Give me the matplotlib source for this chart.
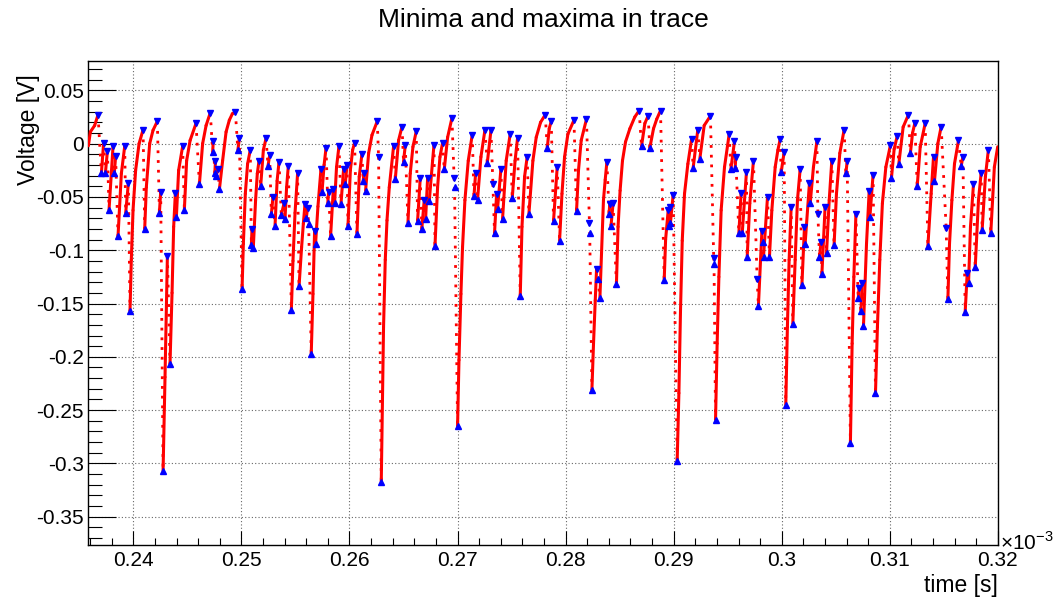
import numpy as np
import matplotlib.pyplot as plt
from matplotlib.collections import LineCollection
from matplotlib.ticker import MultipleLocator, FuncFormatter

plt.rcParams['font.family'] = ['Liberation Sans', 'DejaVu Sans']
plt.rcParams['axes.unicode_minus'] = False
plt.rcParams['mathtext.fontset'] = 'custom'
plt.rcParams['mathtext.rm'] = 'Liberation Sans'

# time in units of 1e-3 s, voltage in V

# local maxima found in the trace
max_t = [0.23673, 0.23725, 0.23760, 0.23812, 0.23836, 0.23920, 0.23954, 0.24090, 0.24222, 0.24253,
         0.24315, 0.24389, 0.24456, 0.24580, 0.24712, 0.24739, 0.24760, 0.24784, 0.24944, 0.24981,
         0.25082, 0.25098, 0.25163, 0.25228, 0.25261, 0.25292, 0.25348, 0.25394, 0.25434, 0.25520,
         0.25588, 0.25612, 0.25677, 0.25736, 0.25783, 0.25807, 0.25850, 0.25903, 0.25945, 0.25977,
         0.26047, 0.26115, 0.26134, 0.26257, 0.26269, 0.26408, 0.26486, 0.26516, 0.26618, 0.26655,
         0.26692, 0.26723, 0.26782, 0.26861, 0.26948, 0.26968, 0.27136, 0.27167, 0.27253, 0.27309,
         0.27327, 0.27361, 0.27401, 0.27487, 0.27555, 0.27644, 0.27811, 0.27867, 0.27922, 0.28077,
         0.28193, 0.28220, 0.28286, 0.28382, 0.28408, 0.28439, 0.28680, 0.28763, 0.28878, 0.28949,
         0.28965, 0.28995, 0.29165, 0.29223, 0.29340, 0.29370, 0.29513, 0.29562, 0.29574, 0.29624,
         0.29673, 0.29738, 0.29772, 0.29816, 0.29868, 0.29985, 0.30022, 0.30087, 0.30170, 0.30210,
         0.30256, 0.30325, 0.30334, 0.30364, 0.30401, 0.30463, 0.30577, 0.30605, 0.30686, 0.30716,
         0.30744, 0.30809, 0.30845, 0.31005, 0.31068, 0.31172, 0.31231, 0.31327, 0.31404, 0.31475,
         0.31521, 0.31635, 0.31676, 0.31716, 0.31774, 0.31845, 0.31912]
max_v = [0.027, 0.0006, -0.007, -0.0025, -0.012, -0.0025, -0.037, 0.013, 0.021, -0.045,
         -0.105, -0.046, -0.0025, 0.019, 0.029, 0.002, -0.016, -0.024, 0.030, 0.005,
         -0.006, -0.080, -0.016, 0.005, -0.011, -0.05, -0.017, -0.056, -0.021, -0.0275,
         -0.057, -0.06, -0.082, -0.024, -0.004, -0.045, -0.043, -0.002, -0.024, -0.02,
         0.0006, -0.01, -0.0275, 0.021, -0.0125, -0.0025, 0.016, -0.0016, 0.0116, -0.032,
         -0.0525, -0.032, -0.001, 0.0006, 0.024, -0.032, 0.0084, -0.0275, 0.0125, 0.0125,
         -0.038, -0.0475, -0.024, 0.009, 0.005, -0.0125, 0.027, 0.021, -0.022, 0.022,
         0.023, -0.074, -0.118, -0.017, -0.057, -0.056, 0.031, 0.026, 0.031, -0.0625,
         -0.059, -0.048, 0.004, 0.013, 0.026, -0.107, 0.0087, 0.002, -0.013, -0.046,
         -0.027, -0.016, -0.127, -0.082, -0.05, 0.004, -0.008, -0.059, -0.024, -0.078,
         -0.037, 0.002, -0.066, -0.092, -0.059, -0.016, 0.013, -0.0166, -0.066, -0.135,
         -0.131, -0.044, -0.029, -0.0016, 0.007, 0.027, 0.019, 0.019, -0.0125, 0.016,
         -0.079, 0.003, -0.0125, -0.121, -0.038, -0.0275, -0.0056]

# local minima found in the trace
min_t = [0.23704, 0.23741, 0.23775, 0.23824, 0.23858, 0.23929, 0.23969, 0.24105, 0.24241, 0.24275,
         0.24339, 0.24398, 0.24472, 0.24611, 0.24734, 0.24754, 0.24766, 0.24796, 0.24967, 0.25006,
         0.25092, 0.25110, 0.25178, 0.25246, 0.25277, 0.25311, 0.25369, 0.25403, 0.25462, 0.25533,
         0.25600, 0.25622, 0.25646, 0.25686, 0.25746, 0.25799, 0.25825, 0.25862, 0.25921, 0.25961,
         0.25986, 0.26069, 0.26127, 0.26149, 0.26294, 0.26424, 0.26500, 0.26541, 0.26630, 0.26669,
         0.26704, 0.26738, 0.26791, 0.26877, 0.26972, 0.27000, 0.27152, 0.27185, 0.27275, 0.27342,
         0.27370, 0.27416, 0.27506, 0.27580, 0.27660, 0.27830, 0.27888, 0.27944, 0.28101, 0.28223,
         0.28243, 0.28299, 0.28317, 0.28402, 0.28420, 0.28470, 0.28702, 0.28779, 0.28912, 0.28958,
         0.28970, 0.29032, 0.29180, 0.29242, 0.29373, 0.29387, 0.29529, 0.29569, 0.29603, 0.29634,
         0.29680, 0.29784, 0.29823, 0.29831, 0.29886, 0.29994, 0.30037, 0.30102, 0.30186, 0.30216,
         0.30263, 0.30349, 0.30371, 0.30414, 0.30484, 0.30593, 0.30635, 0.30707, 0.30732, 0.30756,
         0.30815, 0.30867, 0.31015, 0.31083, 0.31190, 0.31253, 0.31352, 0.31413, 0.31537, 0.31660,
         0.31697, 0.31728, 0.31790, 0.31854, 0.31934]
min_v = [-0.028, -0.028, -0.062, -0.0275, -0.087, -0.065, -0.157, -0.080, -0.065, -0.307,
         -0.207, -0.069, -0.062, -0.038, -0.008, -0.0275, -0.03, -0.043, -0.006, -0.136,
         -0.095, -0.0975, -0.04, -0.021, -0.066, -0.077, -0.067, -0.071, -0.156, -0.134,
         -0.07, -0.075, -0.197, -0.094, -0.045, -0.056, -0.087, -0.056, -0.057, -0.0375,
         -0.077, -0.085, -0.035, -0.044, -0.317, -0.033, -0.017, -0.074, -0.0725, -0.08,
         -0.071, -0.054, -0.096, -0.024, -0.041, -0.265, -0.049, -0.0525, -0.018, -0.084,
         -0.061, -0.071, -0.051, -0.143, -0.066, -0.004, -0.0725, -0.091, -0.063, -0.084,
         -0.231, -0.127, -0.145, -0.066, -0.077, -0.132, -0.0025, -0.004, -0.128, -0.077,
         -0.074, -0.298, -0.0225, -0.014, -0.1125, -0.259, -0.024, -0.0225, -0.084, -0.084,
         -0.106, -0.152, -0.092, -0.106, -0.106, -0.027, -0.245, -0.169, -0.133, -0.094,
         -0.056, -0.106, -0.1225, -0.103, -0.095, -0.028, -0.281, -0.145, -0.157, -0.171,
         -0.069, -0.234, -0.032, -0.019, -0.009, -0.04, -0.096, -0.035, -0.146, -0.021,
         -0.158, -0.131, -0.116, -0.081, -0.084]

# samples along the recovery slopes between extrema
rise_t = [0.23584, 0.23602, 0.23642, 0.23889, 0.23981, 0.23997, 0.24021, 0.24053, 0.24120, 0.24151,
          0.24182, 0.24293, 0.24358, 0.24373, 0.24419, 0.24493, 0.24525, 0.24641, 0.24673, 0.24826,
          0.24858, 0.24888, 0.24916, 0.25018, 0.25036, 0.25057, 0.25131, 0.25147, 0.25203, 0.25330,
          0.25418, 0.25477, 0.25496, 0.25557, 0.25573, 0.25662, 0.25708, 0.25765, 0.25880, 0.26008,
          0.26029, 0.26090, 0.26177, 0.26208, 0.26315, 0.26331, 0.26347, 0.26368, 0.26454, 0.26562,
          0.26587, 0.26769, 0.26815, 0.26837, 0.26908, 0.27013, 0.27031, 0.27046, 0.27068, 0.27099,
          0.27216, 0.27450, 0.27532, 0.27596, 0.27620, 0.27697, 0.27728, 0.27768, 0.27848, 0.27966,
          0.27990, 0.28021, 0.28119, 0.28144, 0.28258, 0.28274, 0.28332, 0.28350, 0.28366, 0.28485,
          0.28504, 0.28526, 0.28554, 0.28594, 0.28640, 0.28733, 0.28813, 0.28843, 0.28925, 0.29048,
          0.29063, 0.29079, 0.29100, 0.29131, 0.29282, 0.29402, 0.29418, 0.29439, 0.29470, 0.29704,
          0.29908, 0.29939, 0.29964, 0.30052, 0.30068, 0.30124, 0.30145, 0.30293, 0.30439, 0.30506,
          0.30537, 0.30651, 0.30667, 0.30784, 0.30885, 0.30907, 0.30931, 0.30963, 0.31040, 0.31123,
          0.31210, 0.31281, 0.31382, 0.31444, 0.31552, 0.31574, 0.31598, 0.31746, 0.31820, 0.31884,
          0.31967, 0.31998]
rise_v = [-0.002, 0.011, 0.017, -0.028, -0.109, -0.0625, -0.025, 0.0, -0.041, 0.0,
          0.0125, -0.219, -0.14, -0.078, -0.025, -0.016, 0.003, 0.0, 0.017, -0.016,
          0.011, 0.022, 0.028, -0.094, -0.047, -0.019, -0.053, -0.028, -0.006, -0.035,
          -0.041, -0.11, -0.065, -0.097, -0.075, -0.141, -0.059, -0.02, -0.022, -0.025,
          -0.006, -0.031, -0.009, 0.008, -0.172, -0.109, -0.072, -0.041, 0.003, -0.028,
          -0.003, -0.016, -0.041, -0.0125, 0.006, -0.203, -0.141, -0.097, -0.053, -0.016,
          -0.0125, -0.016, -0.016, -0.078, -0.031, -0.016, 0.006, 0.02, 0.014, -0.047,
          -0.0125, 0.009, -0.025, 0.003, -0.1875, -0.147, -0.103, -0.053, -0.034, -0.078,
          -0.044, -0.016, 0.0016, 0.014, 0.025, 0.019, 0.014, 0.023, -0.09, -0.234,
          -0.156, -0.091, -0.047, -0.019, 0.017, -0.1875, -0.125, -0.0625, -0.022, -0.056,
          -0.0625, -0.022, -0.006, -0.172, -0.109, -0.109, -0.053, -0.022, -0.053, -0.047,
          -0.009, -0.1875, -0.125, -0.094, -0.172, -0.109, -0.056, -0.022, -0.005, 0.0156,
          0.01, -0.003, -0.047, 0.0, -0.094, -0.053, -0.019, -0.078, -0.053, -0.031,
          -0.022, -0.003]

# merge everything into one time-ordered trace
t = np.concatenate([max_t, min_t, rise_t])
v = np.concatenate([max_v, min_v, rise_v])
order = np.argsort(t, kind='stable')
t, v = t[order], v[order]

pts = np.column_stack([t, v])
segs = np.stack([pts[:-1], pts[1:]], axis=1)
falling = v[1:] < v[:-1]

fig = plt.figure(figsize=(10.56, 6.01), dpi=100)
ax = fig.add_axes([0.0833, 0.0932, 0.8617, 0.8053])

# slow recoveries are densely sampled, fast drops show as separate dots
ax.add_collection(LineCollection(segs[~falling], colors='red', linewidths=2.2,
                                 capstyle='round', zorder=3))
ax.add_collection(LineCollection(segs[falling], colors='red', linewidths=2.0,
                                 linestyles=[(0, (1, 2.5))], zorder=3))

ax.plot(max_t, max_v, 'v', color='blue', ms=4.8, ls='none', zorder=4)
ax.plot(min_t, min_v, '^', color='blue', ms=4.8, ls='none', zorder=4)

ax.set_xlim(0.2358, 0.32)
ax.set_ylim(-0.3765, 0.0775)

ax.xaxis.set_major_locator(MultipleLocator(0.01))
ax.xaxis.set_minor_locator(MultipleLocator(0.002))
ax.yaxis.set_major_locator(MultipleLocator(0.05))
ax.yaxis.set_minor_locator(MultipleLocator(0.01))


def fmt(val, pos):
    val = round(val, 4)
    if abs(val) < 1e-9:
        return '0'
    return '%g' % val


ax.xaxis.set_major_formatter(FuncFormatter(fmt))
ax.yaxis.set_major_formatter(FuncFormatter(fmt))

ax.tick_params(which='both', direction='in', top=False, right=False,
               labelsize=15, width=0.8, colors='black')
ax.tick_params(axis='y', which='major', length=20, pad=3)
ax.tick_params(axis='y', which='minor', length=10)
ax.tick_params(axis='x', which='major', length=10, pad=4)
ax.tick_params(axis='x', which='minor', length=5)

ax.grid(True, which='major', color='0.4', lw=0.8, ls=(0, (1, 2)))
for s in ax.spines.values():
    s.set_linewidth(1.0)

fig.text(0.515, 0.966, 'Minima and maxima in trace', ha='center', va='center', fontsize=19)
fig.text(0.027, 0.785, 'Voltage [V]', rotation=90, ha='center', va='center', fontsize=16.5)
fig.text(0.945, 0.025, 'time [s]', ha='right', va='center', fontsize=16.5)
fig.text(0.947, 0.098, r'$\times$10$^{\mathregular{-3}}$', ha='left', va='center', fontsize=15)

fig.savefig('out.png', dpi=100)
